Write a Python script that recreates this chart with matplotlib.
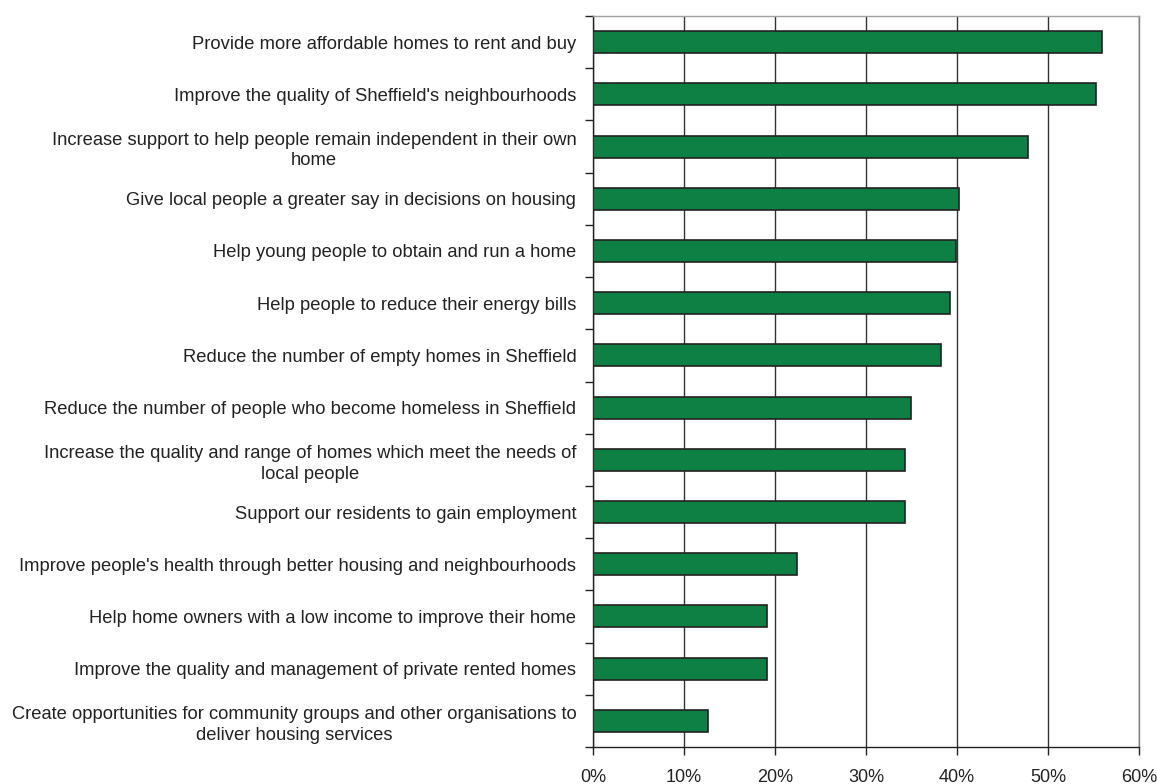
import numpy as np
import matplotlib.pyplot as plt
from matplotlib.ticker import FixedLocator

plt.rcParams['font.family'] = ['Liberation Sans', 'DejaVu Sans']

labels = [
    'Provide more affordable homes to rent and buy',
    "Improve the quality of Sheffield's neighbourhoods",
    'Increase support to help people remain independent in their own\nhome',
    'Give local people a greater say in decisions on housing',
    'Help young people to obtain and run a home',
    'Help people to reduce their energy bills',
    'Reduce the number of empty homes in Sheffield',
    'Reduce the number of people who become homeless in Sheffield',
    'Increase the quality and range of homes which meet the needs of\nlocal people',
    'Support our residents to gain employment',
    "Improve people's health through better housing and neighbourhoods",
    'Help home owners with a low income to improve their home',
    'Improve the quality and management of private rented homes',
    'Create opportunities for community groups and other organisations to\ndeliver housing services',
]
values = [55.9, 55.3, 47.8, 40.2, 39.9, 39.2, 38.2, 34.9, 34.3, 34.3, 22.4, 19.1, 19.1, 12.6]
xticks = [0, 10, 20, 30, 40, 50, 60]

fig = plt.figure(figsize=(11.57, 7.84), dpi=100)
ax = fig.add_axes([593 / 1157, 1 - 747 / 784, (1139 - 593) / 1157, (747 - 16) / 784])

n = len(labels)
index = np.arange(n)
ax.barh(index, values, height=0.42, color='#0E8043', edgecolor='#222222', linewidth=1.2, zorder=3)

ax.set_xlim(0, 60)
ax.set_ylim(n - 0.5, -0.5)

ax.set_xticks(xticks)
ax.set_xticklabels(['%d%%' % t for t in xticks], fontsize=13)
ax.tick_params(axis='x', direction='out', length=6, width=1, pad=10, colors='#222222')

ax.set_yticks(index)
ax.set_yticklabels(labels, fontsize=13.2, color='#222222', multialignment='center', linespacing=1.3)
ax.yaxis.set_minor_locator(FixedLocator(np.arange(-0.5, n, 1)))
ax.tick_params(axis='y', which='major', length=0, pad=12)
ax.tick_params(axis='y', which='minor', length=6, width=1, color='#222222')

ax.xaxis.grid(True, color='#333333', linewidth=1, zorder=0)
ax.set_axisbelow(True)

ax.spines['left'].set_color('#222222')
ax.spines['bottom'].set_color('#222222')
ax.spines['top'].set_color('#A0A0A0')
ax.spines['right'].set_color('#808080')
for s in ax.spines.values():
    s.set_linewidth(1)

fig.savefig('out.png', dpi=100)
